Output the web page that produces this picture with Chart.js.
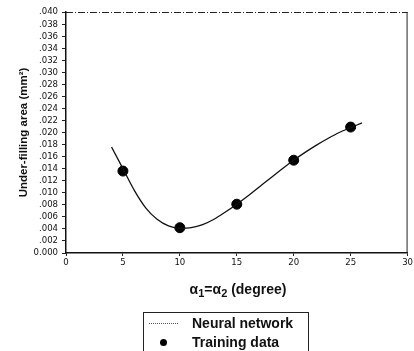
<!DOCTYPE html>
<html>
<head>
<meta charset="utf-8">
<script src="https://cdn.jsdelivr.net/npm/chart.js@4"></script>
<style>
    body { margin: 0; background: #ffffff; }
    #wrap { position: relative; width: 414px; height: 351px; overflow: hidden; }
    #xTitle {
        position: absolute; left: 138px; width: 200px; top: 281px; text-align: center;
        font: bold 14px 'Liberation Sans', Arial, sans-serif; color: #111; white-space: nowrap;
    }
    #xTitle sub { font-size: 11px; vertical-align: -3px; }
    #legendBox {
        position: absolute; left: 143px; top: 312px; width: 164px; height: 60px;
        border: 1px solid #222; background: #fff;
        font: bold 14px 'Liberation Sans', Arial, sans-serif; color: #111;
    }
    .legendRow { position: absolute; left: 0; height: 18px; line-height: 18px; }
    .legendRow span { position: absolute; left: 48px; white-space: nowrap; }
    .lineSample { position: absolute; left: 5px; top: 9px; width: 29px; border-top: 1px dotted #555; }
    .dotSample { position: absolute; left: 16px; top: 6px; width: 7px; height: 7px; border-radius: 50%; background: #000; }
</style>
</head>
<body>
<div id="wrap">
    <canvas id="areaChart" width="414" height="351"></canvas>
    <div id="xTitle">α<sub>1</sub>=α<sub>2</sub> (degree)</div>
    <div id="legendBox">
        <div class="legendRow" style="top:1px"><div class="lineSample"></div><span>Neural network</span></div>
        <div class="legendRow" style="top:20px"><div class="dotSample"></div><span>Training data</span></div>
    </div>
</div>
<script>
// Training points (degree, mm^2)
const trainingAngles = [5, 10, 15, 20, 25];
const trainingArea = [0.0136, 0.0042, 0.0081, 0.0154, 0.0209];

// Neural network prediction curve
const networkAngles = [4, 5, 6, 7, 8, 9, 10, 11, 12, 13, 14, 15, 16, 17, 18, 19, 20, 21, 22, 23, 24, 25, 26];
const networkArea = [0.0176, 0.0140, 0.0104, 0.0075, 0.0056, 0.0045, 0.0041, 0.0042, 0.0047, 0.0056, 0.0068, 0.0081, 0.0095, 0.0110, 0.0125, 0.0140, 0.0154, 0.0167, 0.0179, 0.0190, 0.0200, 0.0208, 0.0216];

const xTicks = [0, 5, 10, 15, 20, 25, 30];

var tickFont = { family: "'Liberation Sans Narrow', 'DejaVu Sans Condensed', 'Liberation Sans', sans-serif", size: 9.5 };

function toPoints(xs, ys) {
    var points = [];
    for (let i = 0; i < xs.length; i++) {
        points.push({ x: xs[i], y: ys[i] });
    }
    return points;
}

//Dash-dot line on top and solid line on the right of the plot area.
var frameLines = {
    id: 'frameLines',
    afterDraw: function (chart) {
        var ctx = chart.ctx;
        var area = chart.chartArea;
        ctx.save();
        ctx.strokeStyle = '#222';
        ctx.lineWidth = 1;
        ctx.setLineDash([7, 2, 1, 2]);
        ctx.beginPath();
        ctx.moveTo(area.left, area.top + 0.5);
        ctx.lineTo(area.right, area.top + 0.5);
        ctx.stroke();
        ctx.setLineDash([]);
        ctx.beginPath();
        ctx.moveTo(area.right - 0.5, area.top);
        ctx.lineTo(area.right - 0.5, area.bottom);
        ctx.stroke();
        ctx.restore();
    }
};

function initChart() {
    var chartControl = document.getElementById('areaChart');

    new Chart(chartControl, {
        type: 'scatter',
        data: {
            datasets: [
                {
                    label: 'Neural network',
                    data: toPoints(networkAngles, networkArea),
                    showLine: true,
                    borderColor: '#111',
                    borderWidth: 1.3,
                    pointRadius: 0,
                    tension: 0.4,
                    cubicInterpolationMode: 'monotone'
                },
                {
                    label: 'Training data',
                    data: toPoints(trainingAngles, trainingArea),
                    backgroundColor: '#000',
                    borderColor: '#000',
                    pointRadius: 5,
                    showLine: false
                }
            ]
        },
        options: {
            responsive: false,
            animation: false,
            layout: {
                padding: { left: 0, right: 5, top: 12, bottom: 50 }
            },
            scales: {
                x: {
                    type: 'linear',
                    min: 0,
                    max: 30,
                    afterBuildTicks: function (axis) {
                        axis.ticks = xTicks.map(function (v) { return { value: v }; });
                    },
                    afterFit: function (axis) {
                        axis.height = 48;
                    },
                    grid: {
                        display: true,
                        drawOnChartArea: false,
                        drawTicks: true,
                        tickLength: 3,
                        color: '#222'
                    },
                    border: { display: true, color: '#111', width: 1.5 },
                    ticks: {
                        color: '#111',
                        font: tickFont,
                        padding: 1,
                        maxRotation: 0
                    },
                    // axis title is drawn as html (needs subscripts)
                    title: { display: false }
                },
                y: {
                    type: 'linear',
                    min: 0,
                    max: 0.04,
                    afterFit: function (axis) {
                        axis.width = 66;
                    },
                    grid: {
                        display: true,
                        drawOnChartArea: false,
                        drawTicks: true,
                        tickLength: 4,
                        color: '#222'
                    },
                    border: { display: true, color: '#111', width: 1.5 },
                    ticks: {
                        stepSize: 0.002,
                        autoSkip: false,
                        color: '#111',
                        font: tickFont,
                        padding: 4,
                        callback: function (value) {
                            if (Math.abs(value) < 1e-9) {
                                return '0.000';
                            }
                            return value.toFixed(3).substring(1);
                        }
                    },
                    title: {
                        display: true,
                        text: 'Under-filling area (mm²)',
                        color: '#111',
                        font: { family: "'Liberation Sans', Arial, sans-serif", size: 11.5, weight: 'bold' },
                        padding: { top: 17, bottom: 0 }
                    }
                }
            },
            plugins: {
                legend: { display: false },
                tooltip: { enabled: false }
            }
        },
        plugins: [frameLines]
    });
}

initChart();
</script>
</body>
</html>
